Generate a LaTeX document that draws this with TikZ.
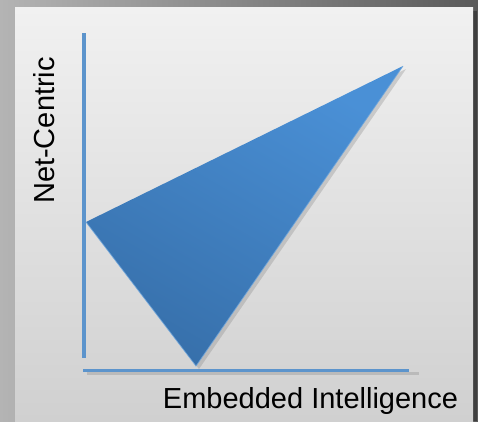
\documentclass[tikz,border=0pt]{standalone}
\usepackage{fontspec}
\setmainfont{Liberation Sans}
\usetikzlibrary{shadows,fadings,calc}
\definecolor{frameDark}{HTML}{5A5A5A}
\definecolor{frameLight}{HTML}{B4B4B4}
\definecolor{panelTop}{HTML}{F1F1F1}
\definecolor{panelBottom}{HTML}{D0D0D0}
\definecolor{axisBlue}{HTML}{5C94CC}
\definecolor{wedgeDark}{HTML}{3770AB}
\definecolor{wedgeLight}{HTML}{4A90D6}
\definecolor{wedgeEdge}{HTML}{6FA6DC}
\tikzset{
  axisline/.style={draw=axisBlue, line width=3.5pt},
  axislabel/.style={font=\fontsize{29}{32}\selectfont, text=black, inner sep=0pt},
  wedge/.style={left color=wedgeLight, right color=wedgeDark, shading angle=-30,
    draw=none, drop shadow={shadow xshift=3pt, shadow yshift=-3pt, opacity=0.3}},
}
\begin{document}
\begin{tikzpicture}[x=1pt,y=-1pt]
  % frame and slide panel
  \useasboundingbox (0,0) rectangle (478,421);
  \shade[left color=frameLight, right color=frameDark] (0,0) rectangle (478,421);
  \fill[black, opacity=0.3] (19,11) rectangle (477,421);
  \shade[top color=panelTop, bottom color=panelBottom] (15,7) rectangle (473,421);

  % axes
  \coordinate (ytop) at (84,33);
  \coordinate (ybot) at (84,358);
  \coordinate (xleft) at (83,370.5);
  \coordinate (xright) at (409,370.5);
  \draw[black, opacity=0.12, line width=3pt] ($(xleft)+(4,3)$) -- ($(xright)+(10,3)$);
  \draw[axisline] (ytop) -- (ybot);
  \draw[axisline] (xleft) -- (xright);

  % the wedge
  \coordinate (pa) at (86,222);
  \coordinate (pb) at (403,66);
  \coordinate (pc) at (196,366);
  \path[wedge] (pa) -- (pb) -- (pc) -- cycle;
  \draw[wedgeEdge, line width=0.8pt, opacity=0.8] (pa) -- (pc) -- (pb);

  % labels
  \node[axislabel, rotate=90, anchor=base] (ylab) at (54,130.5) {Net-Centric};
  \node[axislabel, anchor=base] (xlab) at (310.5,408) {Embedded Intelligence};
\end{tikzpicture}
\end{document}
